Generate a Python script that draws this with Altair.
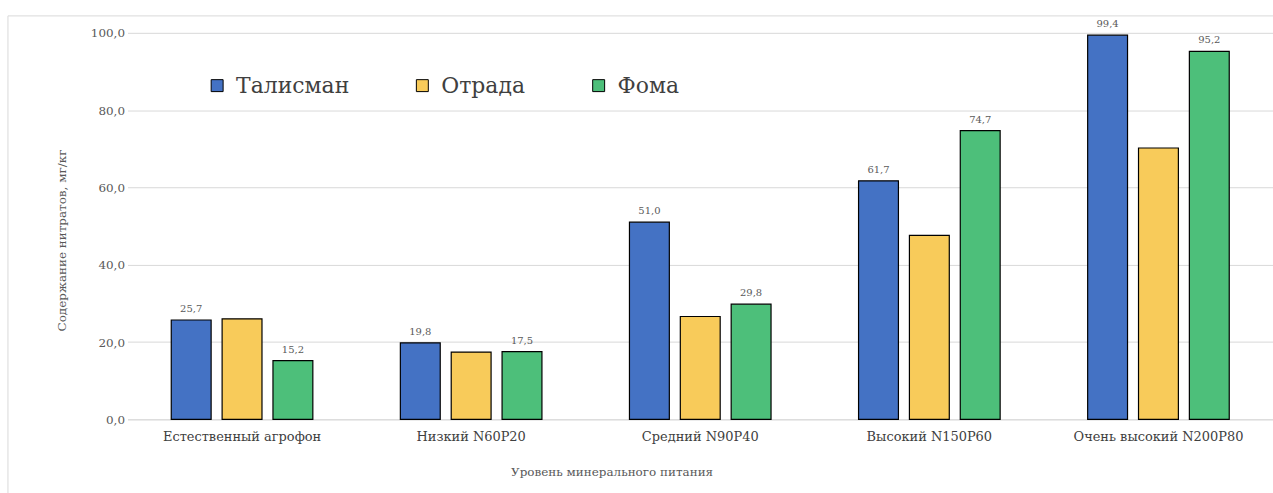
import altair as alt
import pandas as pd

categories = ["Естественный агрофон", "Низкий N60P20", "Средний N90P40",
              "Высокий N150P60", "Очень высокий N200P80"]
series = ["Талисман", "Отрада", "Фома"]
talisman = [25.7, 19.8, 51.0, 61.7, 99.4]
otrada = [26.0, 17.4, 26.6, 47.6, 70.2]
foma = [15.2, 17.5, 29.8, 74.7, 95.2]
labeled_series = ["Талисман", "Фома"]
colors = ["#4472C4", "#F8CB5A", "#4DBF7A"]
y_ticks = [0, 20, 40, 60, 80, 100]

rows = []
for s, vals in zip(series, [talisman, otrada, foma]):
    for c, v in zip(categories, vals):
        rows.append({"cat": c, "series": s, "value": v})
df = pd.DataFrame(rows)

serif = "DejaVu Serif"

x_enc = alt.X(
    "cat:N", sort=categories,
    scale=alt.Scale(paddingInner=0.382, paddingOuter=0.191),
    axis=alt.Axis(
        title="Уровень минерального питания", labelAngle=0, ticks=False,
        domain=True, domainColor="#d9d9d9", labelFont=serif, labelFontSize=13,
        labelColor="#404040", labelPadding=11, titleFont=serif, titleFontSize=12,
        titleFontWeight="normal", titleColor="#595959", titleX=486, titleY=52,
        titleBaseline="middle", titleAnchor="start", titleAlign="center",
    ),
)
y_enc = alt.Y(
    "value:Q", scale=alt.Scale(domain=[0, 100]),
    axis=alt.Axis(
        values=y_ticks, labelExpr="replace(format(datum.value, '.1f'), '.', ',')",
        grid=True, gridColor="#d9d9d9", domain=False, ticks=False, labelPadding=3,
        labelFont=serif, labelFontSize=12, labelColor="#595959",
        title="Содержание нитратов, мг/кг", titleFont=serif, titleFontSize=12,
        titleFontWeight="normal", titleColor="#595959", titleX=-66, titleY=208,
        titleBaseline="middle", titleAlign="center", titleAnchor="start",
    ),
)
xoff = alt.XOffset("series:N", sort=series,
                   scale=alt.Scale(paddingInner=0.216, paddingOuter=0))

base = alt.Chart(df)

bars = base.mark_bar(stroke="black", strokeWidth=1.2).encode(
    x=x_enc, y=y_enc, xOffset=xoff,
    color=alt.Color(
        "series:N", sort=series,
        scale=alt.Scale(domain=series, range=colors),
        legend=alt.Legend(
            orient="none", legendX=79, legendY=42, direction="horizontal",
            title=None, symbolType="square", symbolSize=144,
            symbolStrokeColor="black", symbolStrokeWidth=1, symbolOpacity=1,
            labelFont=serif, labelFontSize=22, labelColor="#404040",
            columnPadding=62, labelOffset=8,
        ),
    ),
)

labels = base.transform_filter(
    alt.FieldOneOfPredicate(field="series", oneOf=labeled_series)
).transform_calculate(
    lbl="replace(format(datum.value, '.1f'), '.', ',')"
).mark_text(baseline="bottom", dy=-6, font=serif, fontSize=10, color="#595959").encode(
    x=x_enc, y=y_enc, xOffset=xoff, text="lbl:N",
)

frame = alt.Chart(pd.DataFrame({"a": [0]})).mark_rect(
    filled=False, stroke="#d9d9d9", strokeWidth=1
).encode(x=alt.value(-120), x2=alt.value(1300), y=alt.value(-17), y2=alt.value(520))

chart = alt.layer(frame, bars, labels).properties(
    width=1150, height=388,
    autosize=alt.AutoSizeParams(type="none"),
    padding={"left": 128, "top": 32, "right": 0, "bottom": 73},
).configure_view(stroke=None)

chart.save("out.html", embed_options={"renderer": "svg", "actions": False})
